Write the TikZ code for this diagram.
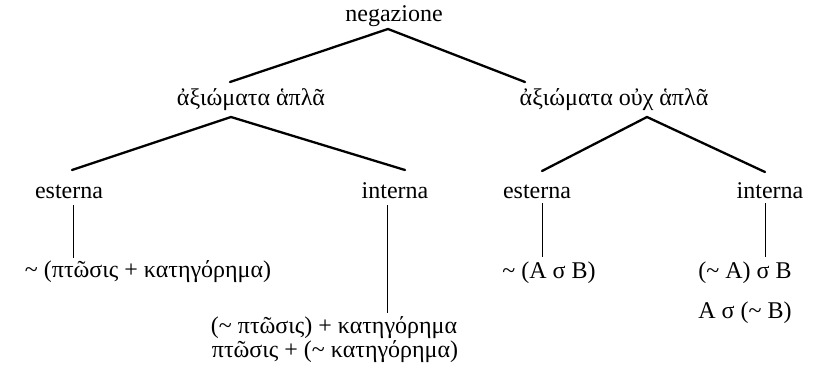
\documentclass[tikz,border=0pt]{standalone}
\usepackage{fontspec}
\setmainfont{Liberation Serif}
\usetikzlibrary{calc}
\newcommand{\tl}{\symbol{126}}
\begin{document}
\begin{tikzpicture}[x=1pt,y=-1pt,
  lbl/.style={anchor=base,inner sep=0pt,font=\fontsize{24}{28}\selectfont},
  branch/.style={line width=2.3pt,line cap=round,line join=round},
  stem/.style={line width=1pt}]
\path[use as bounding box] (0,0) rectangle (816,373);
% labels
\node[lbl] (neg) at (394,21) {negazione};
\node[lbl] (simp) at (251,105) {ἀξιώματα ἁπλᾶ};
\node[lbl] (nsimp) at (614,105) {ἀξιώματα οὐχ ἁπλᾶ};
\node[lbl] (e1) at (69,198) {esterna};
\node[lbl] (i1) at (395,198) {interna};
\node[lbl] (e2) at (537,198) {esterna};
\node[lbl] (i2) at (770,198) {interna};
\node[lbl] (e1f) at (148,277) {\tl\ (πτῶσις + κατηγόρημα)};
\node[lbl] (i1f) at (334,333) {(\tl\ πτῶσις) + κατηγόρημα};
\node[lbl] (i1g) at (335,357) {πτῶσις + (\tl\ κατηγόρημα)};
\node[lbl] (e2f) at (549,278) {\tl\ (A σ B)};
\node[lbl] (i2f) at (745,278) {(\tl\ A) σ B};
\node[lbl] (i2g) at (745,318) {A σ (\tl\ B)};
% junction points of the branches
\coordinate (negj) at ($(neg.base)+(-6,8)$);
\coordinate (simpl) at ($(simp.base)+(-21,-23)$);
\coordinate (nsimpl) at ($(nsimp.base)+(-89,-23)$);
\coordinate (simpj) at ($(simp.base)+(-20,12)$);
\coordinate (e1t) at ($(e1.base)+(3,-28)$);
\coordinate (i1t) at ($(i1.base)+(10,-28)$);
\coordinate (nsimpj) at ($(nsimp.base)+(33,12)$);
\coordinate (e2t) at ($(e2.base)+(5,-27)$);
\coordinate (i2t) at ($(i2.base)+(-5,-26)$);
% branches
\draw[branch] (simpl) -- (negj) -- (nsimpl);
\draw[branch] (e1t) -- (simpj) -- (i1t);
\draw[branch] (e2t) -- (nsimpj) -- (i2t);
% stems
\draw[stem] ($(e1.base)+(4,7)$) -- ($(e1.base)+(4,60)$);
\draw[stem] ($(i1.base)+(-8,7)$) -- ($(i1.base)+(-8,115)$);
\draw[stem] ($(e2.base)+(5,5)$) -- ($(e2.base)+(5,59)$);
\draw[stem] ($(i2.base)+(-5,5)$) -- ($(i2.base)+(-5,59)$);
\end{tikzpicture}
\end{document}
